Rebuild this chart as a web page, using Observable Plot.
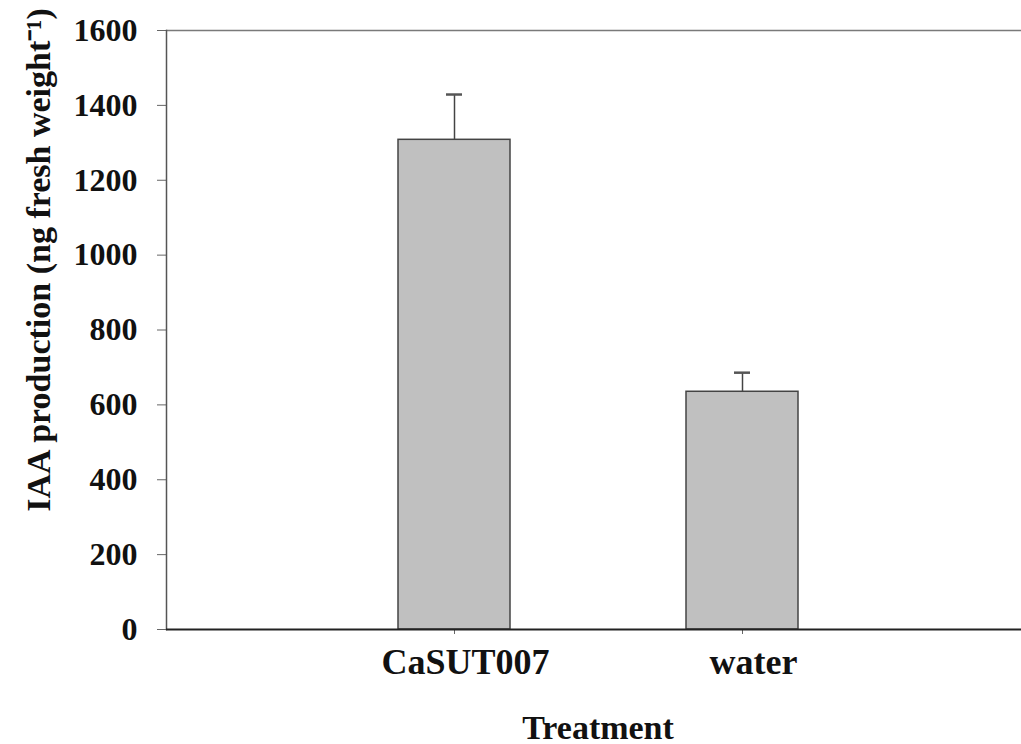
<!DOCTYPE html>
<html><head><meta charset="utf-8">
<script src="https://cdn.jsdelivr.net/npm/d3@7"></script>
<script src="https://cdn.jsdelivr.net/npm/@observablehq/plot@0.6"></script>
<style>html,body{margin:0;padding:0;background:#fff} svg{display:block}</style>
</head><body><div id="chart"></div>
<script>
const categories = ["CaSUT007", "water"];
const means = [1308, 635];
const errors = [121, 51];
const yTicks = [0, 200, 400, 600, 800, 1000, 1200, 1400, 1600];
const xLabel = "Treatment";
const yLabel = "IAA production (ng fresh weight\u207B\u00B9)";

const data = categories.map((c, i) => ({treatment: c, mean: means[i], err: errors[i]}));
const font = "'Liberation Serif', 'Times New Roman', serif";

const chart = Plot.plot({
  width: 1021, height: 744,
  marginLeft: 166, marginRight: 0, marginTop: 30, marginBottom: 115,
  style: {fontFamily: font, fontWeight: "bold", background: "#fff", color: "#111"},
  x: {domain: categories, range: [310, 886], padding: 0, label: null, axis: null},
  y: {domain: [0, 1600], ticks: yTicks, label: null, axis: null},
  marks: [
    Plot.ruleY([1600], {stroke: "#7a7a7a", strokeWidth: 1.5}),
    Plot.barY(data, {x: "treatment", y: "mean", fill: "#c0c0c0", stroke: "#444", strokeWidth: 1.5, insetLeft: 88, insetRight: 88}),
    Plot.ruleX(data, {x: "treatment", y1: "mean", y2: d => d.mean + d.err, stroke: "#444", strokeWidth: 1.5}),
    Plot.tickY(data, {x: "treatment", y: d => d.mean + d.err, stroke: "#555", strokeWidth: 2.5, insetLeft: 136, insetRight: 136}),
    Plot.axisY({ticks: yTicks, tickFormat: d => String(d), tickSize: 9, tickPadding: 20, fontSize: 32, stroke: "#666", fill: "#111", label: null}),
    Plot.axisX({tickSize: 5, tickFormat: () => "", stroke: "#666", label: null}),
    Plot.axisX({tickSize: 0, tickPadding: 19, fontSize: 36, fill: "#111", dx: 11, label: null}),
    Plot.frame({anchor: "left", stroke: "#555", strokeWidth: 1.5}),
    Plot.ruleY([0], {stroke: "#222", strokeWidth: 2}),
    Plot.text([xLabel], {frameAnchor: "bottom", dx: 4, dy: 109, lineAnchor: "bottom", fontSize: 34, fontWeight: "bold", fill: "#111"}),
    Plot.text([yLabel], {frameAnchor: "left", dx: -127, dy: -70, rotate: -90, textAnchor: "middle", lineAnchor: "middle", fontSize: 34, fontWeight: "bold", fill: "#111"})
  ]
});
document.getElementById("chart").append(chart);
</script>
</body></html>
